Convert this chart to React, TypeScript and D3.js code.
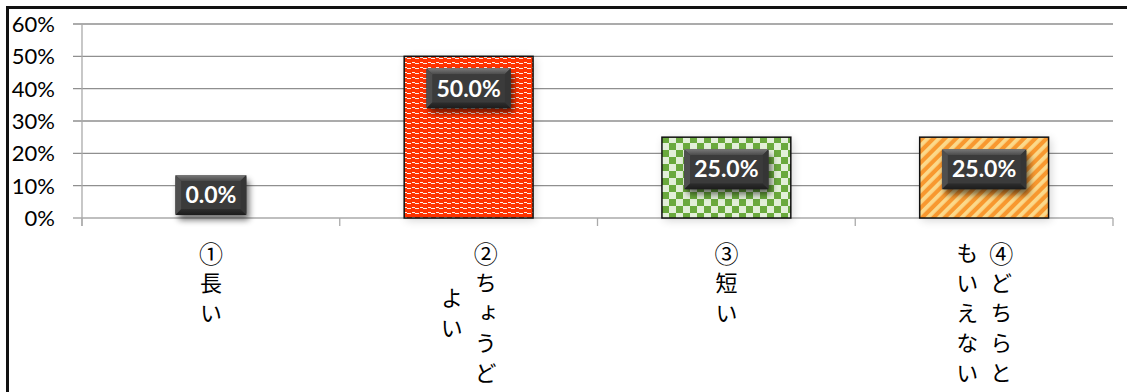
import React from "react";
import * as d3 from "d3";

const categories = ["①長い", "②ちょうどよい", "③短い", "④どちらともいえない"];
const values = [0, 0.5, 0.25, 0.25];
const yTicks = [0, 0.1, 0.2, 0.3, 0.4, 0.5, 0.6];
const fills = ["url(#pWave)", "url(#pWave)", "url(#pCheck)", "url(#pStripe)"];

const W = 1127;
const H = 392;
const X0 = 82;
const X1 = 1113;
const YTOP = 24;
const YBASE = 218;

const tickFont = "Lato, 'Open Sans', sans-serif";
const jpFont = "'Noto Sans CJK JP', 'Noto Sans CJK SC', sans-serif";

function measure(text: string, font: string): number {
  if (typeof document === "undefined") return text.length * 12;
  const c = document.createElement("canvas");
  const ctx = c.getContext("2d");
  if (!ctx) return text.length * 12;
  ctx.font = font;
  return ctx.measureText(text).width;
}

function chunk(s: string, n: number): string[] {
  const chars = Array.from(s);
  const out: string[] = [];
  for (let i = 0; i < chars.length; i += n) out.push(chars.slice(i, i + n).join(""));
  return out;
}

const circled = /[\u2460-\u2473]/;

export default function App() {
  const x = d3.scaleBand<string>().domain(categories).range([X0, X1]).paddingInner(0.5).paddingOuter(0.25);
  const y = d3.scaleLinear().domain([0, 0.6]).range([YBASE, YTOP]);
  const fmtTick = d3.format(".0%");
  const fmtLabel = d3.format(".1%");
  const step = x.step();
  const boundaries = d3.range(categories.length + 1).map((i) => X0 + i * step);

  const labelFontSize = 23;
  const labelFont = `bold ${labelFontSize}px Lato`;
  const boxH = 40;

  const jpSize = 22;
  const rowStep = 30;

  return (
    <svg width={W} height={H} style={{ position: "absolute", left: 0, top: 0, background: "#fff" }}>
      <defs>
        <pattern id="pWave" patternUnits="userSpaceOnUse" width={8} height={5} x={404} y={56}>
          <rect width={8} height={5} fill="#ff3300" />
          <rect x={0} y={1} width={3} height={1} fill="#fbefe8" />
          <rect x={3} y={2} width={1} height={1} fill="#fbefe8" />
          <rect x={4} y={2} width={3} height={1} fill="#fbefe8" />
        </pattern>
        <pattern id="pCheck" patternUnits="userSpaceOnUse" width={14} height={14} x={662} y={136}>
          <rect width={14} height={14} fill="#e3efd9" />
          <rect x={0} y={0} width={7} height={7} fill="#6aa93d" />
          <rect x={7} y={7} width={7} height={7} fill="#6aa93d" />
        </pattern>
        <pattern id="pStripe" patternUnits="userSpaceOnUse" width={8} height={8} patternTransform="rotate(45)">
          <rect width={8} height={8} fill="#f8982f" />
          <rect x={0} y={0} width={3.8} height={8} fill="#fbd98b" />
        </pattern>
        <filter id="fShadow" x="-30%" y="-30%" width="160%" height="180%">
          <feGaussianBlur stdDeviation="3" />
        </filter>
        <filter id="fBarShadow" x="-20%" y="-20%" width="140%" height="140%">
          <feGaussianBlur stdDeviation="5" />
        </filter>
        <linearGradient id="gTop" x1="0" y1="0" x2="0" y2="1">
          <stop offset="0" stopColor="#7a7a7a" />
          <stop offset="1" stopColor="#4a4a4a" />
        </linearGradient>
        <linearGradient id="gBot" x1="0" y1="0" x2="0" y2="1">
          <stop offset="0" stopColor="#2e2e2e" />
          <stop offset="1" stopColor="#1c1c1c" />
        </linearGradient>
      </defs>

      {/* gridlines */}
      {yTicks.map((t) => (
        <line key={"g" + t} x1={73} x2={X1} y1={y(t)} y2={y(t)} stroke={t === 0 ? "#aaaaaa" : "#8f8f8f"} strokeWidth={1.3} />
      ))}
      {/* y axis */}
      <line x1={X0} x2={X0} y1={YTOP} y2={YBASE + 8} stroke="#aaaaaa" strokeWidth={1.3} />
      {/* category ticks */}
      {boundaries.map((bx, i) => (
        <line key={"t" + i} x1={bx} x2={bx} y1={YBASE} y2={YBASE + 8} stroke="#aaaaaa" strokeWidth={1.3} />
      ))}
      {/* y tick labels */}
      {yTicks.map((t) => (
        <text key={"l" + t} x={55} y={y(t)} dy="0.36em" textAnchor="end" fontFamily={tickFont} fontSize={22} fill="#000">
          {fmtTick(t)}
        </text>
      ))}

      {/* bar shadows */}
      {values.map((v, i) =>
        v > 0 ? (
          <rect key={"bs" + i} x={(x(categories[i]) as number) + 2} y={y(v) + 2} width={x.bandwidth()} height={YBASE - y(v)} fill="#000" opacity={0.18} filter="url(#fBarShadow)" />
        ) : null
      )}
      {/* bars */}
      {values.map((v, i) =>
        v > 0 ? (
          <rect key={"b" + i} x={x(categories[i]) as number} y={y(v)} width={x.bandwidth()} height={YBASE - y(v)} fill={fills[i]} stroke="#111" strokeWidth={1.5} />
        ) : null
      )}

      {/* data labels */}
      {values.map((v, i) => {
        const text = fmtLabel(v);
        const tw = measure(text, labelFont);
        const bw = tw + 20;
        const cx = (x(categories[i]) as number) + x.bandwidth() / 2;
        const top = v > 0 ? y(v) + 12 : YBASE - 3 - boxH;
        const lx = cx - bw / 2;
        const rx = cx + bw / 2;
        const by = top + boxH;
        const ins = 6;
        return (
          <g key={"d" + i}>
            <rect x={lx + 3} y={top + 5} width={bw} height={boxH} rx={3} fill="#000" opacity={0.55} filter="url(#fShadow)" />
            <rect x={lx} y={top} width={bw} height={boxH} rx={2} fill="#3e3e3e" />
            <polygon points={`${lx},${top} ${rx},${top} ${rx - ins},${top + ins} ${lx + ins},${top + ins}`} fill="url(#gTop)" />
            <polygon points={`${lx},${top} ${lx + ins},${top + ins} ${lx + ins},${by - ins} ${lx},${by}`} fill="#4f4f4f" />
            <polygon points={`${rx},${top} ${rx - ins},${top + ins} ${rx - ins},${by - ins} ${rx},${by}`} fill="#353535" />
            <polygon points={`${lx},${by} ${lx + ins},${by - ins} ${rx - ins},${by - ins} ${rx},${by}`} fill="url(#gBot)" />
            <rect x={lx + ins} y={top + ins} width={bw - 2 * ins} height={boxH - 2 * ins} fill="#3b3b3b" />
            <text x={cx} y={top + boxH / 2} dy="0.36em" textAnchor="middle" fontFamily="Lato, sans-serif" fontWeight="bold" fontSize={labelFontSize} fill="#fff">
              {text}
            </text>
          </g>
        );
      })}

      {/* category labels (vertical writing) */}
      {categories.map((c, i) => {
        const cols = chunk(c, 5);
        const maxLen = d3.max(cols, (s) => Array.from(s).length) as number;
        const cx = (x(categories[i]) as number) + x.bandwidth() / 2;
        const colGap = 34;
        const blockTop = 242;
        return (
          <g key={"c" + i}>
            {cols.map((col, j) => {
              const colX = cx + ((cols.length - 1) / 2 - j) * colGap;
              const chars = Array.from(col);
              const off = ((maxLen - chars.length) / 2) * rowStep;
              return (
                <text
                  key={"col" + j}
                  x={colX}
                  y={blockTop + off}
                  fontFamily={jpFont}
                  fontSize={jpSize}
                  fill="#000"
                  style={{ writingMode: "vertical-rl" } as React.CSSProperties}
                >
                  {chars.map((ch, k) => {
                    const fs = circled.test(ch) ? 24 : jpSize;
                    const ls = k < chars.length - 1 ? rowStep - fs : 0;
                    return (
                      <tspan key={k} fontSize={fs} style={{ letterSpacing: `${ls}px` }}>
                        {ch}
                      </tspan>
                    );
                  })}
                </text>
              );
            })}
          </g>
        );
      })}

      {/* frame */}
      <path d={`M7.5,${H + 5} L7.5,7.5 L${W + 5},7.5`} fill="none" stroke="#111" strokeWidth={3} />
    </svg>
  );
}
